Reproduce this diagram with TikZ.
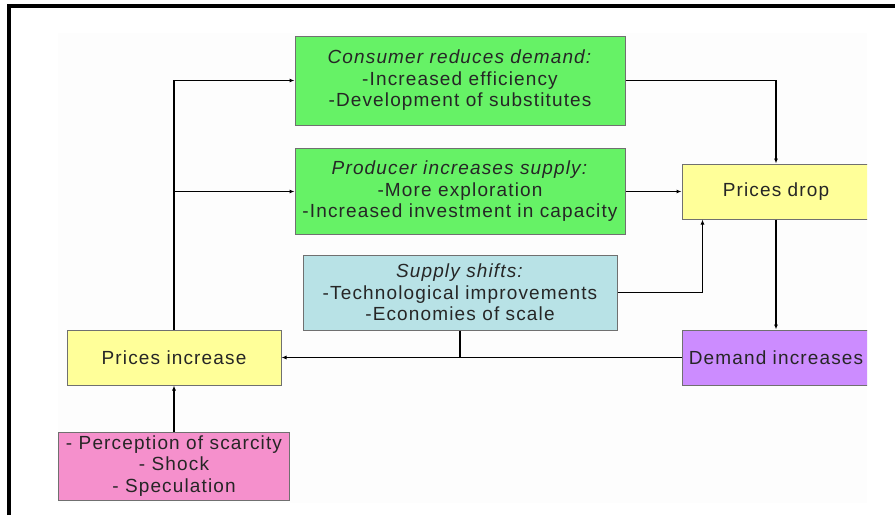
\documentclass[tikz,border=0pt]{standalone}
\usepackage{fontspec}
\setmainfont[LetterSpace=6]{Liberation Sans}
\usetikzlibrary{arrows.meta}
\definecolor{boxgreen}{HTML}{66F266}
\definecolor{boxyellow}{HTML}{FFFF99}
\definecolor{boxblue}{HTML}{B8E2E6}
\definecolor{boxpurple}{HTML}{CC8CFF}
\definecolor{boxpink}{HTML}{F590CC}
\definecolor{boxline}{HTML}{707070}

\begin{document}
\begin{tikzpicture}[x=1pt, y=-1pt, line width=1.3pt,
      every node/.append style={font=\fontsize{19}{21.5}\selectfont, text=black!85, align=center, inner sep=0pt},
      box/.style={draw=boxline, line width=1pt, rectangle},
      link/.style={-{Latex[length=5pt,width=4pt]}}]
    \useasboundingbox (0,0) rectangle (895,515);
    \draw[line width=3.5pt] (9,515) -- (9,6) -- (895,6);
  \begin{scope}
    \clip (0,0) rectangle (867,515);
    \fill[black!0.6] (58,33) rectangle (868,503);

    \node (cons) [box, fill=boxgreen, minimum width=330, minimum height=89] at (460,80.5)
      {\textit{Consumer reduces demand:}\\-Increased efficiency\\-Development of substitutes};
    \node (prod) [box, fill=boxgreen, minimum width=330, minimum height=86] at (460,191.5)
      {\textit{Producer increases supply:}\\-More exploration\\-Increased investment in capacity};
    \node (drop) [box, fill=boxyellow, minimum width=188, minimum height=55] at (776,191.5) {Prices drop};
    \node (supply) [box, fill=boxblue, minimum width=314, minimum height=75] at (460,292.5)
      {\textit{Supply shifts:}\\-Technological improvements\\-Economies of scale};
    \node (inc) [box, fill=boxyellow, minimum width=214, minimum height=55] at (174,357.5) {Prices increase};
    \node (dem) [box, fill=boxpurple, minimum width=188, minimum height=55] at (776,357.5) {Demand increases};
    \node (causes) [box, fill=boxpink, minimum width=231, minimum height=68] at (174,466)
      {- Perception of scarcity\\- Shock\\- Speculation};
    \coordinate (dropin) at ([xshift=21pt]drop.south west);

    \draw[link] (inc.north) |- (cons.west);
    \draw[link] (inc.north |- prod.west) -- (prod.west);
    \draw[link] (cons.east) -| (drop.north);
    \draw[link] (prod.east) -- (drop.west);
    \draw[link] (supply.east) -| (dropin);
    \draw[link] (drop.south) -- (dem.north);
    \draw[link] (dem.west) -- (inc.east);
    \draw (supply.south) -- (supply.south |- dem.west);
    \draw[link] (causes.north) -- (inc.south);
  \end{scope}
\end{tikzpicture}
\end{document}
